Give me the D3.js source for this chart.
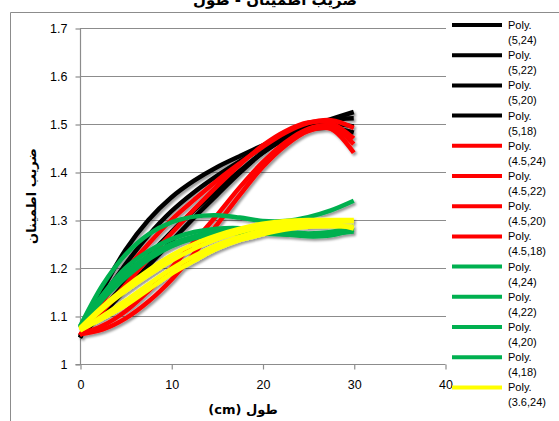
<!DOCTYPE html>
<html><head><meta charset="utf-8">
<script src="https://cdn.jsdelivr.net/npm/d3@7"></script>
<style>html,body{margin:0;padding:0;background:#fff;overflow:hidden}</style>
</head><body><svg id="c" width="559" height="421"></svg>
<script>
// ---- data ----
const xPoints = [0, 2.5, 5, 7.5, 10, 12.5, 15, 17.5, 20, 22.5, 25, 27.5, 30];
const seriesNames = ["(5,24)","(5,22)","(5,20)","(5,18)","(4.5,24)","(4.5,22)","(4.5,20)","(4.5,18)","(4,24)","(4,22)","(4,20)","(4,18)","(3.6,24)","(3.6,22)","(3.6,20)","(3.6,18)"];
const seriesColors = ["#000000","#000000","#000000","#000000","#FF0000","#FF0000","#FF0000","#FF0000","#00B050","#00B050","#00B050","#00B050","#FFFF00","#FFFF00","#FFFF00","#FFFF00"];
const s5_24  = [1.055, 1.155, 1.238, 1.300, 1.347, 1.382, 1.410, 1.433, 1.455, 1.475, 1.495, 1.510, 1.525];
const s5_22  = [1.055, 1.138, 1.208, 1.268, 1.318, 1.358, 1.392, 1.422, 1.450, 1.475, 1.495, 1.508, 1.512];
const s5_20  = [1.058, 1.115, 1.170, 1.225, 1.275, 1.320, 1.362, 1.402, 1.440, 1.470, 1.490, 1.500, 1.495];
const s5_18  = [1.058, 1.105, 1.155, 1.205, 1.255, 1.305, 1.352, 1.398, 1.440, 1.470, 1.488, 1.492, 1.482];
const s45_24 = [1.060, 1.130, 1.195, 1.250, 1.300, 1.342, 1.382, 1.418, 1.452, 1.482, 1.502, 1.508, 1.492];
const s45_22 = [1.060, 1.110, 1.165, 1.220, 1.272, 1.322, 1.370, 1.415, 1.455, 1.485, 1.503, 1.502, 1.470];
const s45_20 = [1.062, 1.080, 1.110, 1.152, 1.200, 1.255, 1.310, 1.368, 1.420, 1.462, 1.490, 1.495, 1.458];
const s45_18 = [1.062, 1.072, 1.095, 1.130, 1.175, 1.230, 1.290, 1.352, 1.410, 1.455, 1.485, 1.490, 1.440];
const s4_24  = [1.078, 1.165, 1.228, 1.270, 1.295, 1.307, 1.310, 1.305, 1.298, 1.298, 1.306, 1.320, 1.340];
const s4_22  = [1.078, 1.145, 1.200, 1.235, 1.260, 1.275, 1.282, 1.283, 1.280, 1.275, 1.272, 1.275, 1.286];
const s4_20  = [1.075, 1.140, 1.190, 1.225, 1.250, 1.266, 1.275, 1.278, 1.276, 1.270, 1.266, 1.268, 1.280];
const s4_18  = [1.075, 1.135, 1.180, 1.218, 1.245, 1.262, 1.270, 1.273, 1.272, 1.270, 1.270, 1.272, 1.276];
const s36_24 = [1.075, 1.120, 1.160, 1.195, 1.226, 1.250, 1.268, 1.282, 1.292, 1.298, 1.300, 1.300, 1.300];
const s36_22 = [1.072, 1.115, 1.152, 1.185, 1.215, 1.240, 1.260, 1.275, 1.286, 1.293, 1.296, 1.292, 1.282];
const s36_20 = [1.070, 1.100, 1.132, 1.166, 1.198, 1.225, 1.248, 1.265, 1.278, 1.287, 1.292, 1.295, 1.298];
const s36_18 = [1.070, 1.095, 1.122, 1.155, 1.188, 1.215, 1.240, 1.258, 1.270, 1.280, 1.286, 1.287, 1.286];
const seriesValues = [s5_24,s5_22,s5_20,s5_18,s45_24,s45_22,s45_20,s45_18,s4_24,s4_22,s4_20,s4_18,s36_24,s36_22,s36_20,s36_18];
const legendCount = 13;
const xTicks = [0, 10, 20, 30, 40];
const yTicks = [1, 1.1, 1.2, 1.3, 1.4, 1.5, 1.6, 1.7];
const yTickLabels = ["1", "1.1", "1.2", "1.3", "1.4", "1.5", "1.6", "1.7"];
const yTitle = "ضریب اطمینان";
const xTitle = "طول (cm)";
const chartTitle = "ضریب اطمینان - طول";

// ---- drawing ----
const svg = d3.select("#c");
const x = d3.scaleLinear().domain([0, 40]).range([80, 445]);
const y = d3.scaleLinear().domain([1, 1.7]).range([364, 28]);

const defs = svg.append("defs");
const f = defs.append("filter").attr("id","sh").attr("x","-10%").attr("y","-10%").attr("width","130%").attr("height","130%");
f.append("feDropShadow").attr("dx",1.8).attr("dy",2.2).attr("stdDeviation",1.3).attr("flood-color","#000").attr("flood-opacity",0.4);

// chart border
svg.append("path").attr("d","M10.5,421 V12.5 H559").attr("fill","none").attr("stroke","#8c8c8c").attr("stroke-width",1);

// title (clipped at top as in the reference)
svg.append("text").attr("x",275).attr("y",5).attr("text-anchor","middle")
  .attr("font-family","DejaVu Sans").attr("font-weight","bold").attr("font-size",15).attr("direction","rtl")
  .text(chartTitle);

// gridlines
svg.append("g").selectAll("line").data(yTicks.slice(1)).join("line")
  .attr("x1",80).attr("x2",446).attr("y1",d=>Math.round(y(d))+0.5).attr("y2",d=>Math.round(y(d))+0.5)
  .attr("stroke","#8c8c8c").attr("stroke-width",1.2);

// axes
const yAxis = d3.axisLeft(y).tickValues(yTicks).tickSize(5).tickPadding(8).tickFormat((d,i)=>yTickLabels[i]);
const gy = svg.append("g").attr("transform","translate(80.5,0.5)").call(yAxis);
const xAxis = d3.axisBottom(x).tickValues(xTicks).tickSize(5).tickPadding(8);
const gx = svg.append("g").attr("transform","translate(0.5,364.5)").call(xAxis);
[gy, gx].forEach(g => {
  g.select(".domain").attr("stroke","#8c8c8c").attr("stroke-width",1.2);
  g.selectAll(".tick line").attr("stroke","#8c8c8c").attr("stroke-width",1.2);
  g.selectAll("text").attr("font-family","Liberation Sans, Arial").attr("font-size",12.5).attr("fill","#000");
});
gy.select(".domain").attr("d","M0,28V364");
gx.select(".domain").attr("d","M75,0H445");
gy.selectAll(".tick text").attr("dy","0.35em");
gx.selectAll(".tick text").attr("dy","0.9em");

// axis titles
svg.append("text").attr("transform","translate(36,196) rotate(-90)").attr("text-anchor","middle")
  .attr("font-family","DejaVu Sans").attr("font-weight","bold").attr("font-size",13).text(yTitle);
svg.append("text").attr("x",243).attr("y",414).attr("text-anchor","middle").attr("direction","rtl")
  .attr("font-family","DejaVu Sans").attr("font-weight","bold").attr("font-size",13).text(xTitle);

// series lines
const line = d3.line().x(d=>x(d[0])).y(d=>y(d[1])).curve(d3.curveCatmullRom.alpha(0.5));
const order = d3.range(seriesValues.length);
svg.append("g").attr("filter","url(#sh)").selectAll("path").data(order).join("path")
  .attr("d", i => line(xPoints.map((xv,k)=>[xv, seriesValues[i][k]])))
  .attr("fill","none").attr("stroke", i=>seriesColors[i]).attr("stroke-width",4.5).attr("stroke-linecap","butt");

// legend
const lg = svg.append("g");
const entries = order.slice(0, legendCount);
const ly = i => 25 + i * 30.2;
lg.selectAll("line").data(entries).join("line")
  .attr("x1",452).attr("x2",502).attr("y1",ly).attr("y2",ly)
  .attr("stroke",i=>seriesColors[i]).attr("stroke-width",4);
lg.selectAll("text.a").data(entries).join("text").attr("class","a")
  .attr("x",508).attr("y",i=>ly(i)+4).attr("font-family","Liberation Sans, Arial").attr("font-size",11).text("Poly.");
lg.selectAll("text.b").data(entries).join("text").attr("class","b")
  .attr("x",508).attr("y",i=>ly(i)+19).attr("font-family","Liberation Sans, Arial").attr("font-size",11).text(i=>seriesNames[i]);
</script></body></html>
